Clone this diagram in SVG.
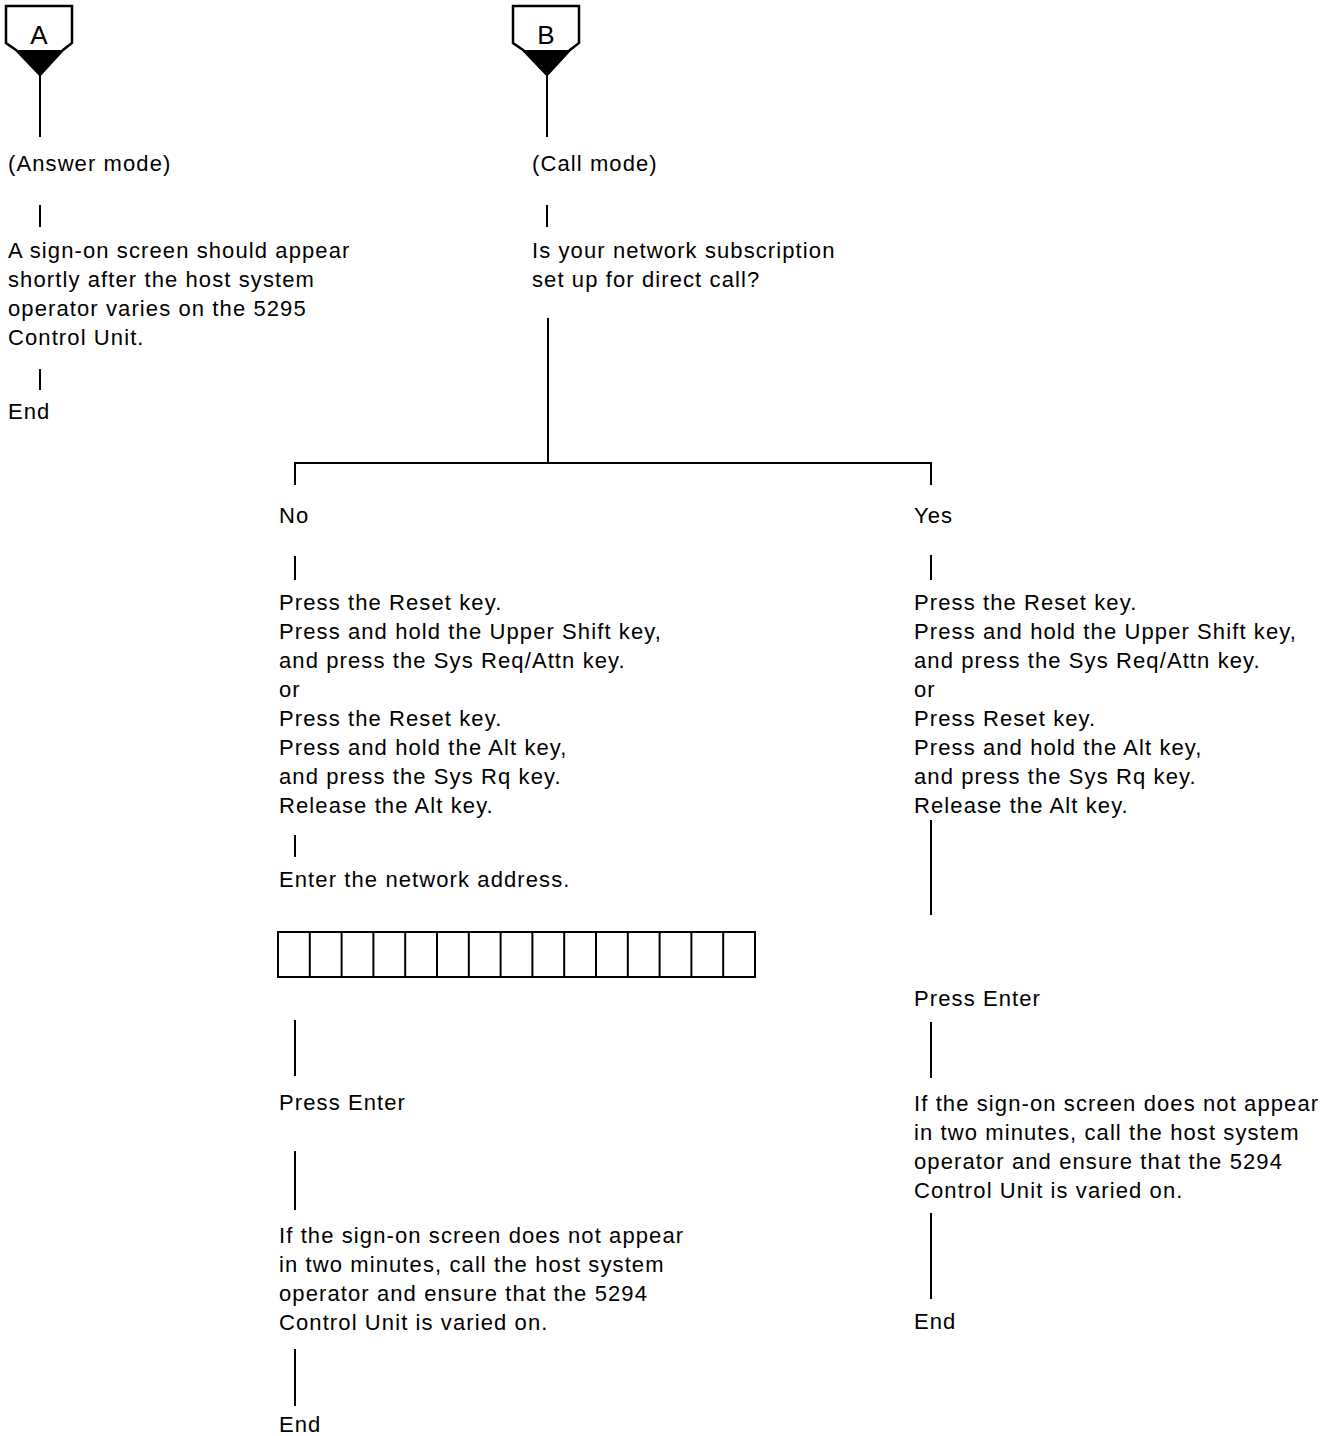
<svg xmlns="http://www.w3.org/2000/svg" width="1337" height="1436" viewBox="0 0 1337 1436">
  <style>
    text { font-family: "Liberation Sans", Arial, sans-serif; font-size: 22px; letter-spacing: 1.1px; fill: #000; }
    .lbl { font-size: 26px; letter-spacing: 0; text-anchor: middle; }
    .ln { stroke: #000; stroke-width: 2; fill: none; }
    .cell { stroke: #000; stroke-width: 2; fill: #fff; }
    .tag { stroke: #000; stroke-width: 2.5; fill: #fff; stroke-linejoin: miter; }
    .tip { fill: #000; }
  </style>
  <rect width="1337" height="1436" fill="#fff"/>

  <defs>
    <g id="entry-tag">
      <polygon class="tag" points="0,0 66,0 66,37 57,44 34,69 10,44 0,37"/>
      <polygon class="tip" points="9,44 58,44 34,69"/>
    </g>
  </defs>

  <!-- connectors -->
  <g id="connectors">
    <line class="ln" x1="40" y1="74" x2="40" y2="137"/>
    <line class="ln" x1="40" y1="205" x2="40" y2="227"/>
    <line class="ln" x1="40" y1="369" x2="40" y2="390"/>

    <line class="ln" x1="547" y1="74" x2="547" y2="137"/>
    <line class="ln" x1="547" y1="205" x2="547" y2="227"/>
    <line class="ln" x1="548" y1="318" x2="548" y2="463"/>
    <polyline class="ln" points="295,485 295,463 931,463 931,485"/>

    <line class="ln" x1="295" y1="556" x2="295" y2="580"/>
    <line class="ln" x1="295" y1="835" x2="295" y2="857"/>
    <line class="ln" x1="295" y1="1020" x2="295" y2="1076"/>
    <line class="ln" x1="295" y1="1151" x2="295" y2="1210"/>
    <line class="ln" x1="295" y1="1349" x2="295" y2="1406"/>

    <line class="ln" x1="931" y1="555" x2="931" y2="580"/>
    <line class="ln" x1="931" y1="820" x2="931" y2="915"/>
    <line class="ln" x1="931" y1="1022" x2="931" y2="1078"/>
    <line class="ln" x1="931" y1="1213" x2="931" y2="1299"/>
  </g>

  <!-- entry point A -->
  <g id="tag-a">
    <use href="#entry-tag" x="6" y="6"/>
    <text class="lbl" x="39" y="44">A</text>
  </g>

  <!-- entry point B -->
  <g id="tag-b">
    <use href="#entry-tag" x="513" y="6"/>
    <text class="lbl" x="546" y="44">B</text>
  </g>

  <g id="answer-mode"><text x="8" y="171">(Answer mode)</text></g>
  <g id="answer-signon">
    <text x="8" y="258">A sign-on screen should appear</text>
    <text x="8" y="287">shortly after the host system</text>
    <text x="8" y="316">operator varies on the 5295</text>
    <text x="8" y="345">Control Unit.</text>
  </g>
  <g id="answer-end"><text x="8" y="419">End</text></g>

  <g id="call-mode"><text x="532" y="171">(Call mode)</text></g>
  <g id="direct-call-question">
    <text x="532" y="258">Is your network subscription</text>
    <text x="532" y="287">set up for direct call?</text>
  </g>

  <g id="branch-no"><text x="279" y="523">No</text></g>
  <g id="branch-yes"><text x="914" y="523">Yes</text></g>

  <g id="no-keys">
    <text x="279" y="610">Press the Reset key.</text>
    <text x="279" y="639">Press and hold the Upper Shift key,</text>
    <text x="279" y="668">and press the Sys Req/Attn key.</text>
    <text x="279" y="697">or</text>
    <text x="279" y="726">Press the Reset key.</text>
    <text x="279" y="755">Press and hold the Alt key,</text>
    <text x="279" y="784">and press the Sys Rq key.</text>
    <text x="279" y="813">Release the Alt key.</text>
  </g>

  <g id="no-address">
    <text x="279" y="887">Enter the network address.</text>
  </g>

  <!-- 15 address entry positions -->
  <g id="address-field">
    <rect class="cell" x="278" y="932" width="477" height="45"/>
    <path class="ln" d="M309.8 932V977M341.6 932V977M373.4 932V977M405.2 932V977M437 932V977M468.8 932V977M500.6 932V977M532.4 932V977M564.2 932V977M596 932V977M627.8 932V977M659.6 932V977M691.4 932V977M723.2 932V977"/>
  </g>

  <g id="no-enter"><text x="279" y="1110">Press Enter</text></g>
  <g id="no-signon">
    <text x="279" y="1243">If the sign-on screen does not appear</text>
    <text x="279" y="1272">in two minutes, call the host system</text>
    <text x="279" y="1301">operator and ensure that the 5294</text>
    <text x="279" y="1330">Control Unit is varied on.</text>
  </g>
  <g id="no-end"><text x="279" y="1432">End</text></g>

  <g id="yes-keys">
    <text x="914" y="610">Press the Reset key.</text>
    <text x="914" y="639">Press and hold the Upper Shift key,</text>
    <text x="914" y="668">and press the Sys Req/Attn key.</text>
    <text x="914" y="697">or</text>
    <text x="914" y="726">Press Reset key.</text>
    <text x="914" y="755">Press and hold the Alt key,</text>
    <text x="914" y="784">and press the Sys Rq key.</text>
    <text x="914" y="813">Release the Alt key.</text>
  </g>
  <g id="yes-enter"><text x="914" y="1006">Press Enter</text></g>
  <g id="yes-signon">
    <text x="914" y="1111">If the sign-on screen does not appear</text>
    <text x="914" y="1140">in two minutes, call the host system</text>
    <text x="914" y="1169">operator and ensure that the 5294</text>
    <text x="914" y="1198">Control Unit is varied on.</text>
  </g>
  <g id="yes-end"><text x="914" y="1329">End</text></g>
</svg>
